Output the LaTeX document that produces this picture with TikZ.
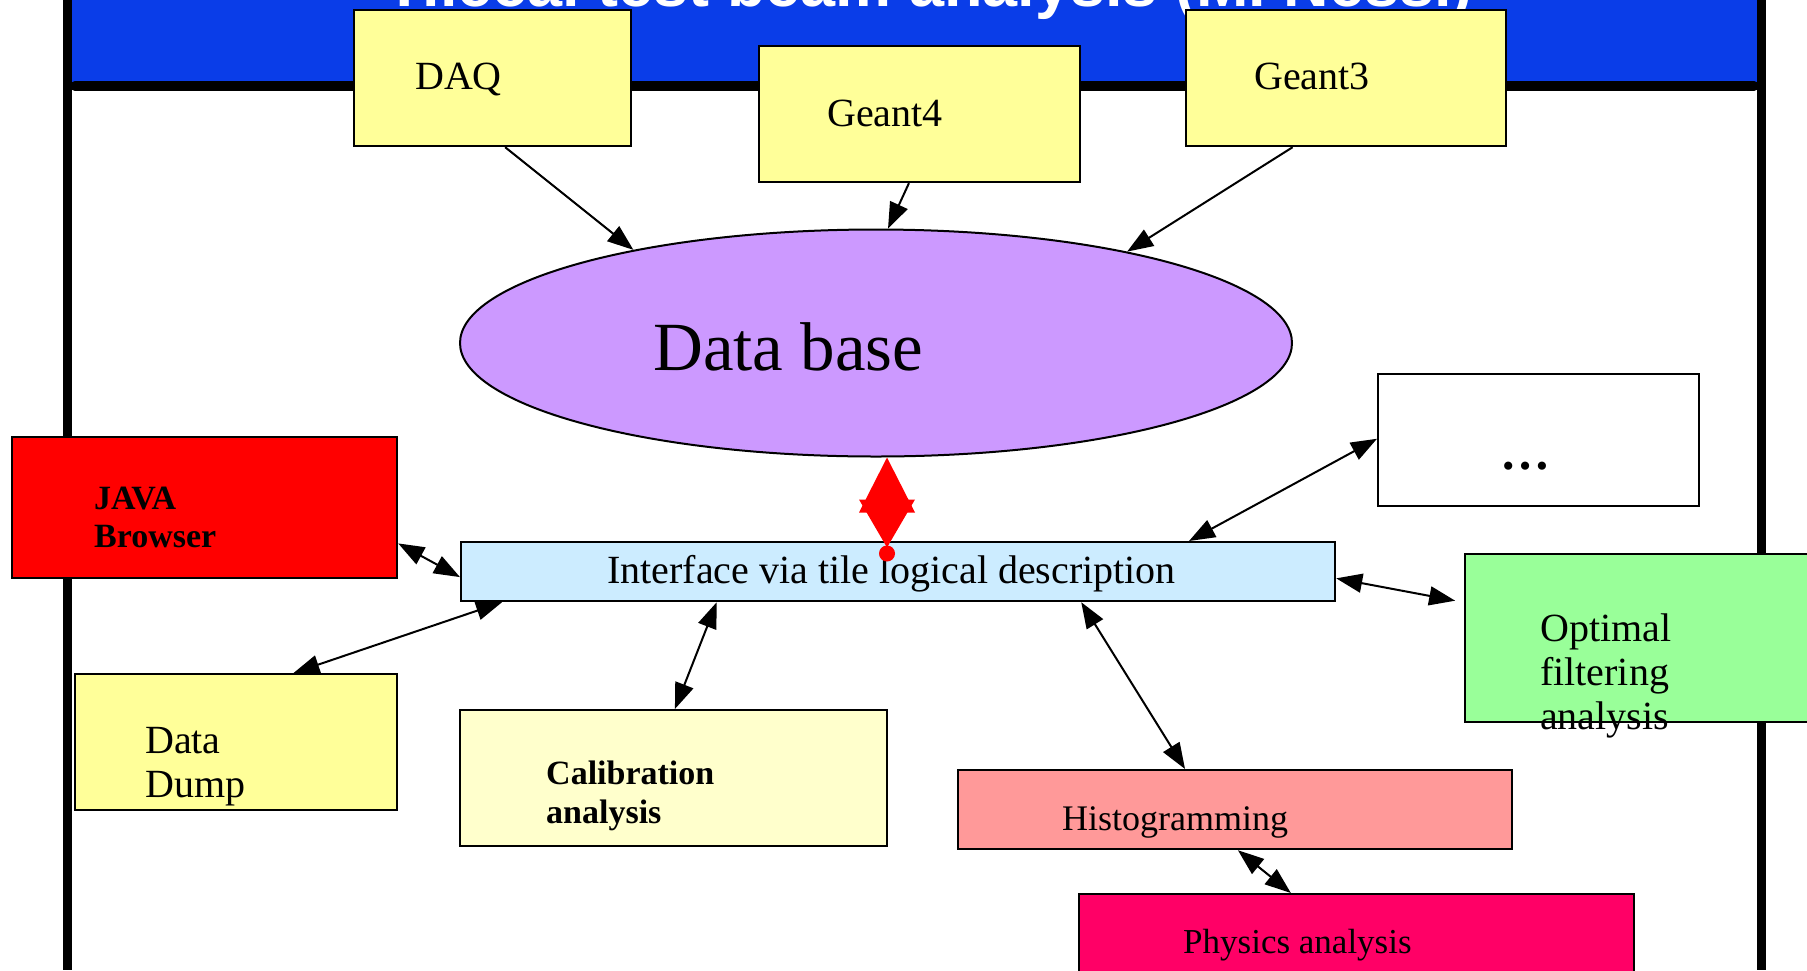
\documentclass[tikz,border=0pt]{standalone}
\usepackage{fontspec}
\setmainfont{Liberation Serif}
\newfontfamily\titlefont{Liberation Sans}
\usetikzlibrary{shapes.geometric,arrows.meta,calc}
\definecolor{titleblue}{RGB}{10,61,232}
\definecolor{yel}{HTML}{FFFF99}
\definecolor{dbpurple}{HTML}{CC99FF}
\definecolor{ifblue}{HTML}{CCECFF}
\definecolor{calibyel}{HTML}{FFFFCC}
\definecolor{histopink}{HTML}{FF9999}
\definecolor{physmag}{HTML}{FF0066}
\definecolor{optgreen}{HTML}{99FF99}
\definecolor{javared}{HTML}{FF0000}
\begin{document}
\begin{tikzpicture}[x=1pt,y=-1pt,
  box/.style={draw=black,line width=2.2pt,rectangle,inner sep=0pt,anchor=north west},
  txt/.style={inner sep=0pt,anchor=base west,align=left,font=\fontsize{40}{44}\selectfont},
  conn/.style={line width=2pt,{Triangle[length=26pt,width=19pt]}-{Triangle[length=26pt,width=19pt]}},
  one/.style={line width=2pt,-{Triangle[length=26pt,width=19pt]}}]
\useasboundingbox (0,0) rectangle (1807,970);
\clip (0,0) rectangle (1807,970);
% frame and title band
\fill[titleblue] (71,0) rectangle (1757,86);
\draw[line width=9pt] (67,0) -- (67,970);
\draw[line width=9pt] (1761,0) -- (1761,970);
\draw[line width=10pt,line cap=round] (75,86) -- (1754,86);
\node[anchor=base west,inner sep=0pt,text=white,font=\titlefont\bfseries\fontsize{63}{63}\selectfont] (title) at (385,6) {Tilecal test beam analysis (M. Nessi)};
% top sources
\node[box,fill=yel,minimum width=277pt,minimum height=136pt] (daq) at (353,9) {};
\node[txt] (daqT) at (415,89) {DAQ};
\node[box,fill=yel,minimum width=321pt,minimum height=136pt] (g4) at (758,45) {};
\node[txt] (g4T) at (827,126) {Geant4};
\node[box,fill=yel,minimum width=320pt,minimum height=136pt] (g3) at (1185,9) {};
\node[txt] (g3T) at (1254,89) {Geant3};
% database
\node[ellipse,draw=black,line width=2pt,fill=dbpurple,minimum width=832pt,minimum height=227pt,inner sep=0pt] (db) at (876,343) {};
\node[txt,font=\fontsize{69}{69}\selectfont] (dbT) at (653,370) {Data base};
% clients
\node[box,fill=javared,minimum width=385pt,minimum height=141pt] (java) at (11,436) {};
\node[txt,font=\fontsize{34}{38}\selectfont\bfseries] (javaT) at (94,547) {JAVA\\Browser};
\node[box,fill=ifblue,minimum width=874pt,minimum height=59pt] (iface) at (460,541) {};
\node[txt] (ifaceT) at (607,583) {Interface via tile logical description};
\node[box,fill=white,minimum width=321pt,minimum height=132pt] (dots) at (1377,373) {};
\node[txt,font=\fontsize{50}{50}\selectfont\bfseries] (dotsT) at (1500,469) {\ldots};
\node[box,fill=optgreen,minimum width=380pt,minimum height=168pt] (opt) at (1464,553) {};
\node[txt] (optT) at (1540,729) {Optimal\\filtering\\analysis};
\node[box,fill=yel,minimum width=322pt,minimum height=136pt] (dump) at (74,673) {};
\node[txt] (dumpT) at (145,797) {Data\\Dump};
\node[box,fill=calibyel,minimum width=427pt,minimum height=136pt] (calib) at (459,709) {};
\node[txt,font=\fontsize{34}{39}\selectfont\bfseries] (calibT) at (546,823) {Calibration\\analysis};
\node[box,fill=histopink,minimum width=554pt,minimum height=79pt] (histo) at (957,769) {};
\node[txt,font=\fontsize{36}{40}\selectfont] (histoT) at (1062,830) {Histogramming};
\node[box,fill=physmag,minimum width=555pt,minimum height=120pt] (phys) at (1078,893) {};
\node[txt,font=\fontsize{35}{40}\selectfont] (physT) at (1183,953) {Physics analysis};
% connectors
\draw[one] ($(daq.south west)!0.545!(daq.south east)$) -- (db.159.6);
\draw[one] ($(g4.south west)!0.467!(g4.south east)$) -- (db.84);
\draw[one] ($(g3.south west)!0.334!(g3.south east)$) -- (db.20);
\draw[conn] ($(java.north east)!0.75!(java.south east)$) -- ($(iface.north west)!0.59!(iface.south west)$);
\draw[conn] ($(dump.north west)!0.677!(dump.north east)$) -- ($(iface.south west)!0.048!(iface.south east)$);
\draw[conn] ($(calib.north west)!0.503!(calib.north east)$) -- ($(iface.south west)!0.293!(iface.south east)$);
\draw[conn] ($(histo.north west)!0.41!(histo.north east)$) -- ($(iface.south west)!0.709!(iface.south east)$);
\draw[conn] ($(histo.south west)!0.505!(histo.south east)$) -- ($(phys.north west)!0.382!(phys.north east)$);
\draw[conn] ($(iface.north west)!0.832!(iface.north east)$) -- ($(dots.north west)!0.49!(dots.south west)$);
\draw[conn,shorten >=9pt] ($(iface.north east)!0.61!(iface.south east)$) -- ($(opt.north west)!0.29!(opt.south west)$);
% red diamond link between data base and interface
\coordinate (dtop) at ($(db.south)+(11,0)$);
\fill[red] (dtop) -- ++(-28,55) -- ++(56,0) -- cycle;
\fill[red] ($(dtop)+(-28,42)$) -- ++(56,0) -- ($(dtop)+(0,90)$) -- cycle;
\fill[red] ($(dtop)+(0,96)$) circle (8);
\end{tikzpicture}
\end{document}
